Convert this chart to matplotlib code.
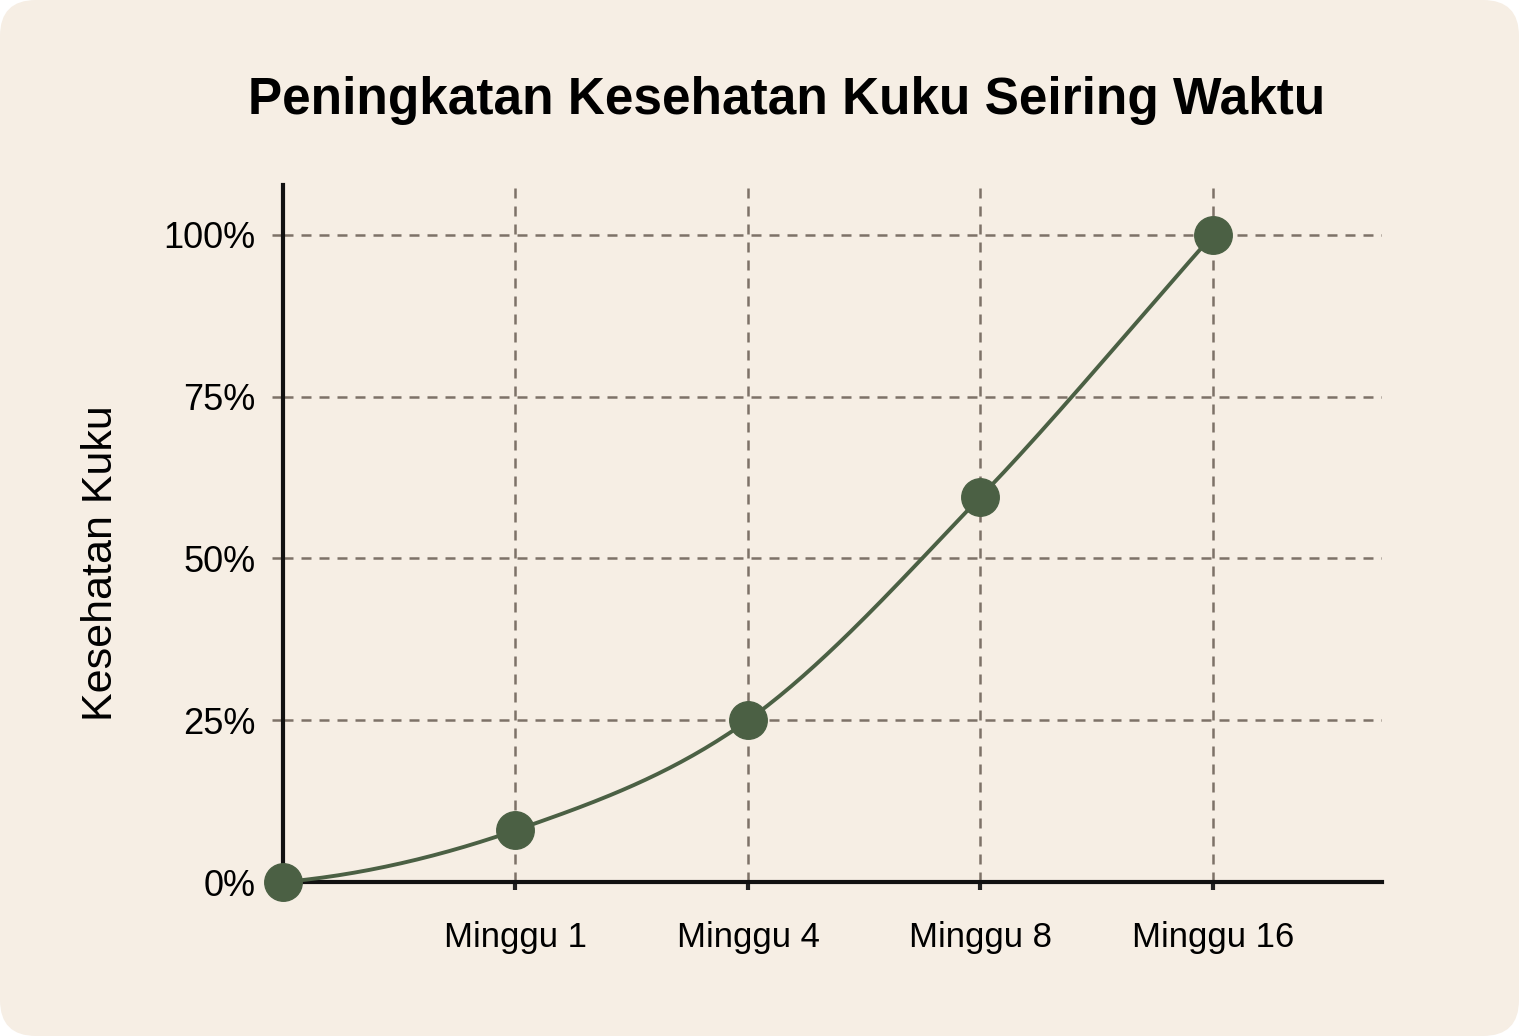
import numpy as np
import matplotlib
matplotlib.use("Agg")
import matplotlib.pyplot as plt
from matplotlib.patches import FancyBboxPatch

# data
weeks = ["", "Minggu 1", "Minggu 4", "Minggu 8", "Minggu 16"]
health = [0, 8, 25, 59.5, 100]
y_ticks = [0, 25, 50, 75, 100]
y_labels = ["0%", "25%", "50%", "75%", "100%"]

bg = "#f6eee4"
green = "#4b6044"
grid_col = "#7d7268"

plt.rcParams["font.family"] = ["Liberation Sans", "DejaVu Sans"]

fig = plt.figure(figsize=(15.19, 10.36), dpi=100, facecolor="white")
card = FancyBboxPatch((0, 0), 1519, 1036, boxstyle="round,pad=0,rounding_size=36",
                      transform=None, facecolor=bg, edgecolor="none", zorder=-10)
fig.patches.append(card)

ax = fig.add_axes([0.1863, 0.1486, 0.7235, 0.6728])
ax.set_facecolor("none")

x = np.arange(len(weeks))
y = np.array(health, dtype=float)

# smooth curve through the points (cardinal / catmull-rom style hermite)
h = np.diff(x)
d = np.diff(y) / h
m = np.zeros_like(y)
m[1:-1] = (d[:-1] + d[1:]) / 2
m[0] = d[0] * 0.4
m[-1] = d[-1]
xs, ys = [], []
for i in range(len(x) - 1):
    t = np.linspace(0, 1, 60)
    h00 = 2 * t**3 - 3 * t**2 + 1
    h10 = t**3 - 2 * t**2 + t
    h01 = -2 * t**3 + 3 * t**2
    h11 = t**3 - t**2
    xs.extend(x[i] + t * h[i])
    ys.extend(h00 * y[i] + h10 * h[i] * m[i] + h01 * y[i + 1] + h11 * h[i] * m[i + 1])

ax.plot(xs, ys, color=green, lw=2.8, zorder=3, solid_capstyle="round")
ax.plot(x, y, "o", color=green, markersize=27, zorder=4, clip_on=False)

ax.set_xlim(0, 4.727)
ax.set_ylim(0, 107.7)

# dashed grid
for xi in x[1:]:
    ax.axvline(xi, color=grid_col, lw=1.8, ls=(0, (4, 3.2)), zorder=1)
for yi in y_ticks[1:]:
    ax.axhline(yi, color=grid_col, lw=1.8, ls=(0, (4, 3.2)), zorder=1)

ax.set_xticks(x[1:])
ax.set_xticklabels(weeks[1:], fontsize=25)
ax.set_yticks(y_ticks)
ax.set_yticklabels(y_labels, fontsize=26)
ax.tick_params(axis="x", length=6, width=3, color="#222222", pad=22)
ax.tick_params(axis="y", length=8, width=1.8, color=grid_col, pad=12)

for s in ["top", "right"]:
    ax.spines[s].set_visible(False)
for s in ["left", "bottom"]:
    ax.spines[s].set_linewidth(3)
    ax.spines[s].set_color("#111111")

ax.set_ylabel("Kesehatan Kuku", fontsize=31)
ax.yaxis.set_label_coords(-0.147, 0.458)
fig.text(0.518, 0.903, "Peningkatan Kesehatan Kuku Seiring Waktu",
         ha="center", va="center", fontsize=37, fontweight="bold")

fig.savefig("out.png", dpi=100, facecolor="white")
